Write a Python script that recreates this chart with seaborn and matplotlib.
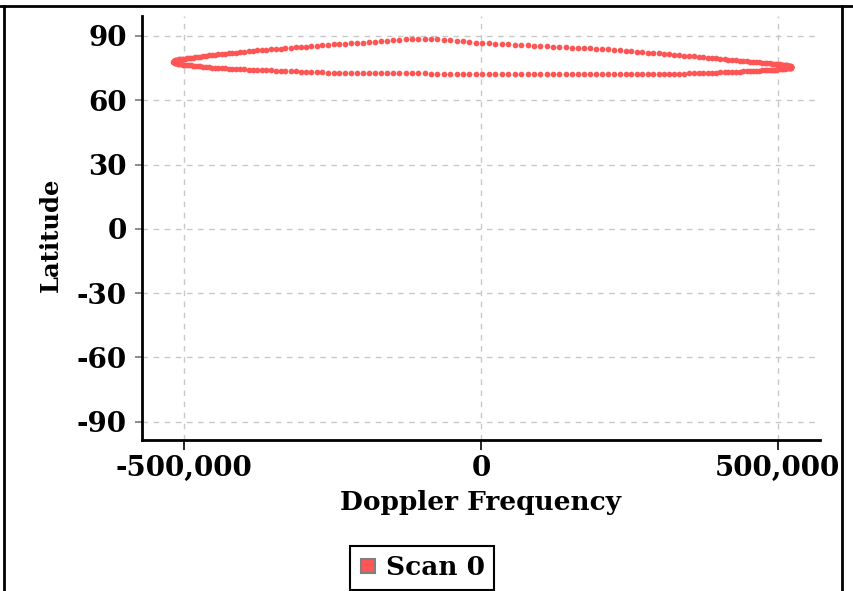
import pandas as pd
import seaborn as sns
import matplotlib.pyplot as plt
from matplotlib.lines import Line2D
from matplotlib.ticker import StrMethodFormatter

# Scan 0 footprint: north edge left->right, south edge in the same x order
doppler_hz = [
    -518000, -517900, -517500, -517000, -516200, -515100, -513900, -512400, -510700, -508800,
    -506600, -504200, -501600, -498800, -495800, -492500, -489100, -485400, -481500, -477300,
    -473000, -468500, -463700, -458800, -453600, -448300, -442700, -437000, -431000, -424900,
    -418600, -412100, -405400, -398600, -391500, -384300, -376900, -369400, -361700, -353800,
    -345800, -337600, -329300, -320800, -312200, -303400, -294600, -285500, -276400, -267100,
    -257800, -248300, -238600, -228900, -219100, -209200, -199200, -189100, -178900, -168700,
    -158300, -147900, -137500, -126900, -116400, -105700, -95000, -84300, -73500, -62700,
    -51900, -41100, -30200, -19300, -8400, 2500, 13400, 24300, 35200, 46100,
    56900, 67700, 78500, 89300, 100000, 110700, 121400, 131900, 142500, 152900,
    163300, 173700, 183900, 194100, 204200, 214200, 224100, 233900, 243600, 253300,
    262800, 272100, 281400, 290500, 299600, 308400, 317200, 325800, 334300, 342600,
    350800, 358800, 366700, 374400, 381900, 389300, 396500, 403600, 410400, 417100,
    423600, 429900, 436000, 442000, 447700, 453300, 458600, 463800, 468700, 473500,
    478000, 482300, 486500, 490400, 494100, 497500, 500800, 503800, 506600, 509200,
    511600, 513800, 515700, 517400, 518900, 520100, 521200, 522000, 522500, 522900,
    523000,
]
lat_north = [
    78.0, 78.1, 78.2, 78.3, 78.4, 78.6, 78.7, 78.8, 78.9, 79.0,
    79.1, 79.2, 79.3, 79.4, 79.5, 79.7, 79.8, 79.9, 80.0, 80.2,
    80.3, 80.5, 80.7, 80.9, 81.0, 81.2, 81.4, 81.5, 81.7, 81.9,
    82.1, 82.2, 82.4, 82.6, 82.8, 83.0, 83.2, 83.4, 83.6, 83.8,
    84.0, 84.1, 84.3, 84.5, 84.7, 84.8, 85.0, 85.2, 85.4, 85.6,
    85.8, 86.0, 86.2, 86.3, 86.5, 86.7, 86.9, 87.1, 87.3, 87.5,
    87.7, 87.9, 88.2, 88.35, 88.45, 88.55, 88.6, 88.55, 88.45, 88.3,
    88.0, 87.7, 87.5, 87.2, 86.9, 86.7, 86.5, 86.35, 86.2, 86.05,
    85.9, 85.75, 85.6, 85.45, 85.3, 85.15, 85.0, 84.85, 84.7, 84.55,
    84.45, 84.3, 84.2, 84.1, 83.9, 83.7, 83.5, 83.25, 83.05, 82.8,
    82.6, 82.4, 82.2, 82.0, 81.8, 81.6, 81.4, 81.2, 81.0, 80.85,
    80.65, 80.45, 80.25, 80.05, 79.85, 79.65, 79.5, 79.3, 79.15, 78.95,
    78.8, 78.65, 78.5, 78.35, 78.2, 77.95, 77.85, 77.7, 77.6, 77.5,
    77.4, 77.3, 77.15, 77.05, 76.95, 76.9, 76.8, 76.7, 76.6, 76.5,
    76.4, 76.3, 76.2, 76.15, 76.05, 75.95, 75.85, 75.8, 75.7, 75.6,
    75.5,
]
# south edge, matches doppler_hz[1:-1]
lat_south = [
    77.9, 77.8, 77.7, 77.55, 77.45, 77.35, 77.2, 77.1, 77.0,
    76.9, 76.8, 76.65, 76.55, 76.45, 76.35, 76.25, 76.15, 76.0, 75.9,
    75.75, 75.6, 75.45, 75.3, 75.2, 75.1, 75.0, 74.95, 74.85, 74.75,
    74.65, 74.55, 74.5, 74.4, 74.3, 74.25, 74.15, 74.1, 74.0, 73.95,
    73.85, 73.75, 73.65, 73.55, 73.45, 73.35, 73.25, 73.15, 73.1, 73.0,
    72.9, 72.85, 72.85, 72.8, 72.75, 72.75, 72.7, 72.7, 72.65, 72.65,
    72.6, 72.6, 72.6, 72.55, 72.55, 72.5, 72.5, 72.45, 72.4, 72.4,
    72.35, 72.3, 72.3, 72.25, 72.25, 72.2, 72.2, 72.2, 72.15, 72.15,
    72.15, 72.1, 72.1, 72.1, 72.1, 72.1, 72.1, 72.1, 72.1, 72.1,
    72.1, 72.1, 72.1, 72.1, 72.1, 72.1, 72.1, 72.15, 72.15, 72.15,
    72.15, 72.2, 72.2, 72.25, 72.3, 72.3, 72.35, 72.4, 72.45, 72.45,
    72.5, 72.55, 72.65, 72.7, 72.75, 72.8, 72.85, 72.95, 73.0, 73.1,
    73.2, 73.3, 73.35, 73.45, 73.5, 73.6, 73.65, 73.7, 73.8, 73.9,
    73.95, 74.05, 74.1, 74.2, 74.25, 74.3, 74.4, 74.45, 74.55, 74.6,
    74.7, 74.8, 74.85, 74.95, 75.0, 75.1, 75.2, 75.25, 75.35, 75.4,
]
x_ticks = [-500000, 0, 500000]
y_ticks = [-90, -60, -30, 0, 30, 60, 90]
series_name = "Scan 0"
dot_color = "#ff5555"

sns.set_style("ticks")
plt.rcParams['font.family'] = ['DejaVu Serif Condensed', 'DejaVu Serif']
plt.rcParams['font.weight'] = 'bold'
plt.rcParams['axes.unicode_minus'] = False
plt.rcParams['text.color'] = 'black'
plt.rcParams['xtick.labelcolor'] = 'black'
plt.rcParams['ytick.labelcolor'] = 'black'
plt.rcParams['axes.labelcolor'] = 'black'

# closed loop: north edge going right, south edge coming back
loop_x = doppler_hz + doppler_hz[-2:0:-1]
loop_y = lat_north + lat_south[::-1]
df = pd.DataFrame({'doppler': loop_x, 'lat': loop_y, 'scan': series_name})

fig = plt.figure(figsize=(8.54, 5.91), dpi=100)
ax = fig.add_axes([0.1663, 0.2555, 0.7937, 0.7175])

sns.scatterplot(data=df, x='doppler', y='lat', color=dot_color, s=17,
                linewidth=0, legend=False, ax=ax, zorder=3)

ax.set_xlim(-571000, 571000)
ax.set_ylim(-98.5, 99.3)
ax.set_xticks(x_ticks)
ax.set_yticks(y_ticks)
ax.xaxis.set_major_formatter(StrMethodFormatter('{x:,.0f}'))
ax.yaxis.set_major_formatter(StrMethodFormatter('{x:.0f}'))
ax.grid(True, color='#c8c8c8', linestyle=(0, (4, 4)), linewidth=1)
ax.tick_params(axis='both', labelsize=20, width=1.2)
ax.tick_params(axis='x', length=7, color='black')
ax.tick_params(axis='y', length=5, color='#777777', pad=6)

for side in ['top', 'right']:
    ax.spines[side].set_visible(False)
for side in ['left', 'bottom']:
    ax.spines[side].set_color('black')
    ax.spines[side].set_linewidth(2)

ax.set_xlabel('Doppler Frequency', fontsize=19, fontweight='bold', labelpad=6)
ax.set_ylabel('Latitude', fontsize=17.5, fontweight='bold')
ax.yaxis.set_label_coords(-0.117, 0.483)

# frame around the whole chart (bottom edge falls outside the image)
for xs, ys in [([0, 1], [0.9895, 0.9895]), ([0.0047, 0.0047], [0, 0.9895]),
               ([0.986, 0.986], [0, 0.9895])]:
    fig.add_artist(Line2D(xs, ys, transform=fig.transFigure, color='black', lw=2))

handle = Line2D([], [], marker='s', linestyle='none', markerfacecolor=dot_color,
                markeredgecolor='#808080', markeredgewidth=1.5, markersize=10)
leg = fig.legend(handles=[handle], labels=[series_name], loc='upper center',
                 bbox_to_anchor=(0.494, 0.076), borderaxespad=0, frameon=True,
                 fancybox=False, edgecolor='black', framealpha=1, handlelength=0.7,
                 handletextpad=0.3, borderpad=0.35, fontsize=19)
leg.get_frame().set_linewidth(1.5)

fig.savefig('out.png', dpi=100)
